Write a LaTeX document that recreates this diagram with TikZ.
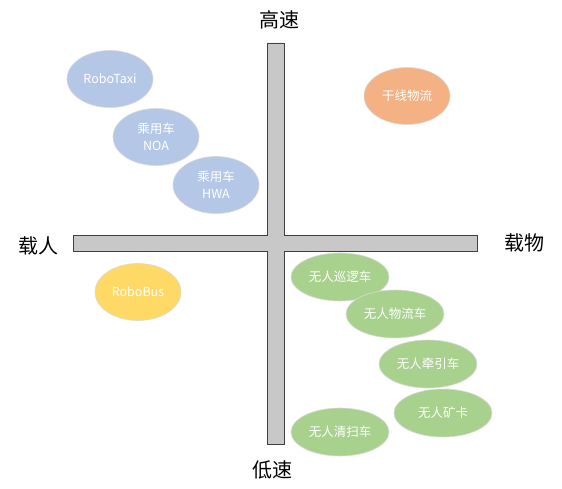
\documentclass[tikz,border=0pt]{standalone}
\usepackage{fontspec}
\newfontfamily\cjk{Noto Sans CJK SC}
\usetikzlibrary{shapes.geometric}
\definecolor{carBlue}{HTML}{B4C7E7}
\definecolor{trunkOrange}{HTML}{F4B183}
\definecolor{busYellow}{HTML}{FFD966}
\definecolor{cargoGreen}{HTML}{A9D18E}
\definecolor{barGray}{HTML}{C8C8C8}

\begin{document}
\begin{tikzpicture}[x=1pt, y=-1pt,
    bubble/.style={ellipse, draw=black!15, line width=0.6pt, text=white, inner sep=0pt,
        minimum width=86pt, minimum height=57pt, align=center,
        font=\cjk\fontsize{12.5}{17}\selectfont},
    cargo/.style={bubble, fill=cargoGreen, minimum width=98pt, minimum height=48pt},
    axislabel/.style={font=\cjk\fontsize{20}{20}\selectfont}]

    \useasboundingbox (0,0) rectangle (562,489);

    % cross of the two axes
    \draw[fill=barGray, draw=black!75, line width=0.8pt]
        (267,43) -- (284,43) -- (284,235) -- (477,235) -- (477,251) -- (284,251)
        -- (284,444) -- (267,444) -- (267,251) -- (73,251) -- (73,235) -- (267,235) -- cycle;

    % axis labels
    \node[axislabel] (fast) at (279,20) {高速};
    \node[axislabel] (slow) at (272,470) {低速};
    \node[axislabel] (people) at (38,246) {载人};
    \node[axislabel] (goods) at (524,243) {载物};

    % passenger cars (upper left)
    \node[bubble, fill=carBlue] (robotaxi) at (110,79) {RoboTaxi};
    \node[bubble, fill=carBlue] (noa) at (156,137) {乘用车\\NOA};
    \node[bubble, fill=carBlue] (hwa) at (216,185) {乘用车\\HWA};

    % trunk logistics (upper right)
    \node[bubble, fill=trunkOrange] (trunk) at (407,96) {干线物流};

    % bus (lower left)
    \node[bubble, fill=busYellow] (robobus) at (138,292) {RoboBus};

    % low speed cargo (lower right)
    \node[cargo] (patrol) at (340,277) {无人巡逻车};
    \node[cargo] (delivery) at (395,314) {无人物流车};
    \node[cargo] (tractor) at (428,364) {无人牵引车};
    \node[cargo] (mining) at (443,413) {无人矿卡};
    \node[cargo] (sweeper) at (340,432) {无人清扫车};

\end{tikzpicture}
\end{document}
